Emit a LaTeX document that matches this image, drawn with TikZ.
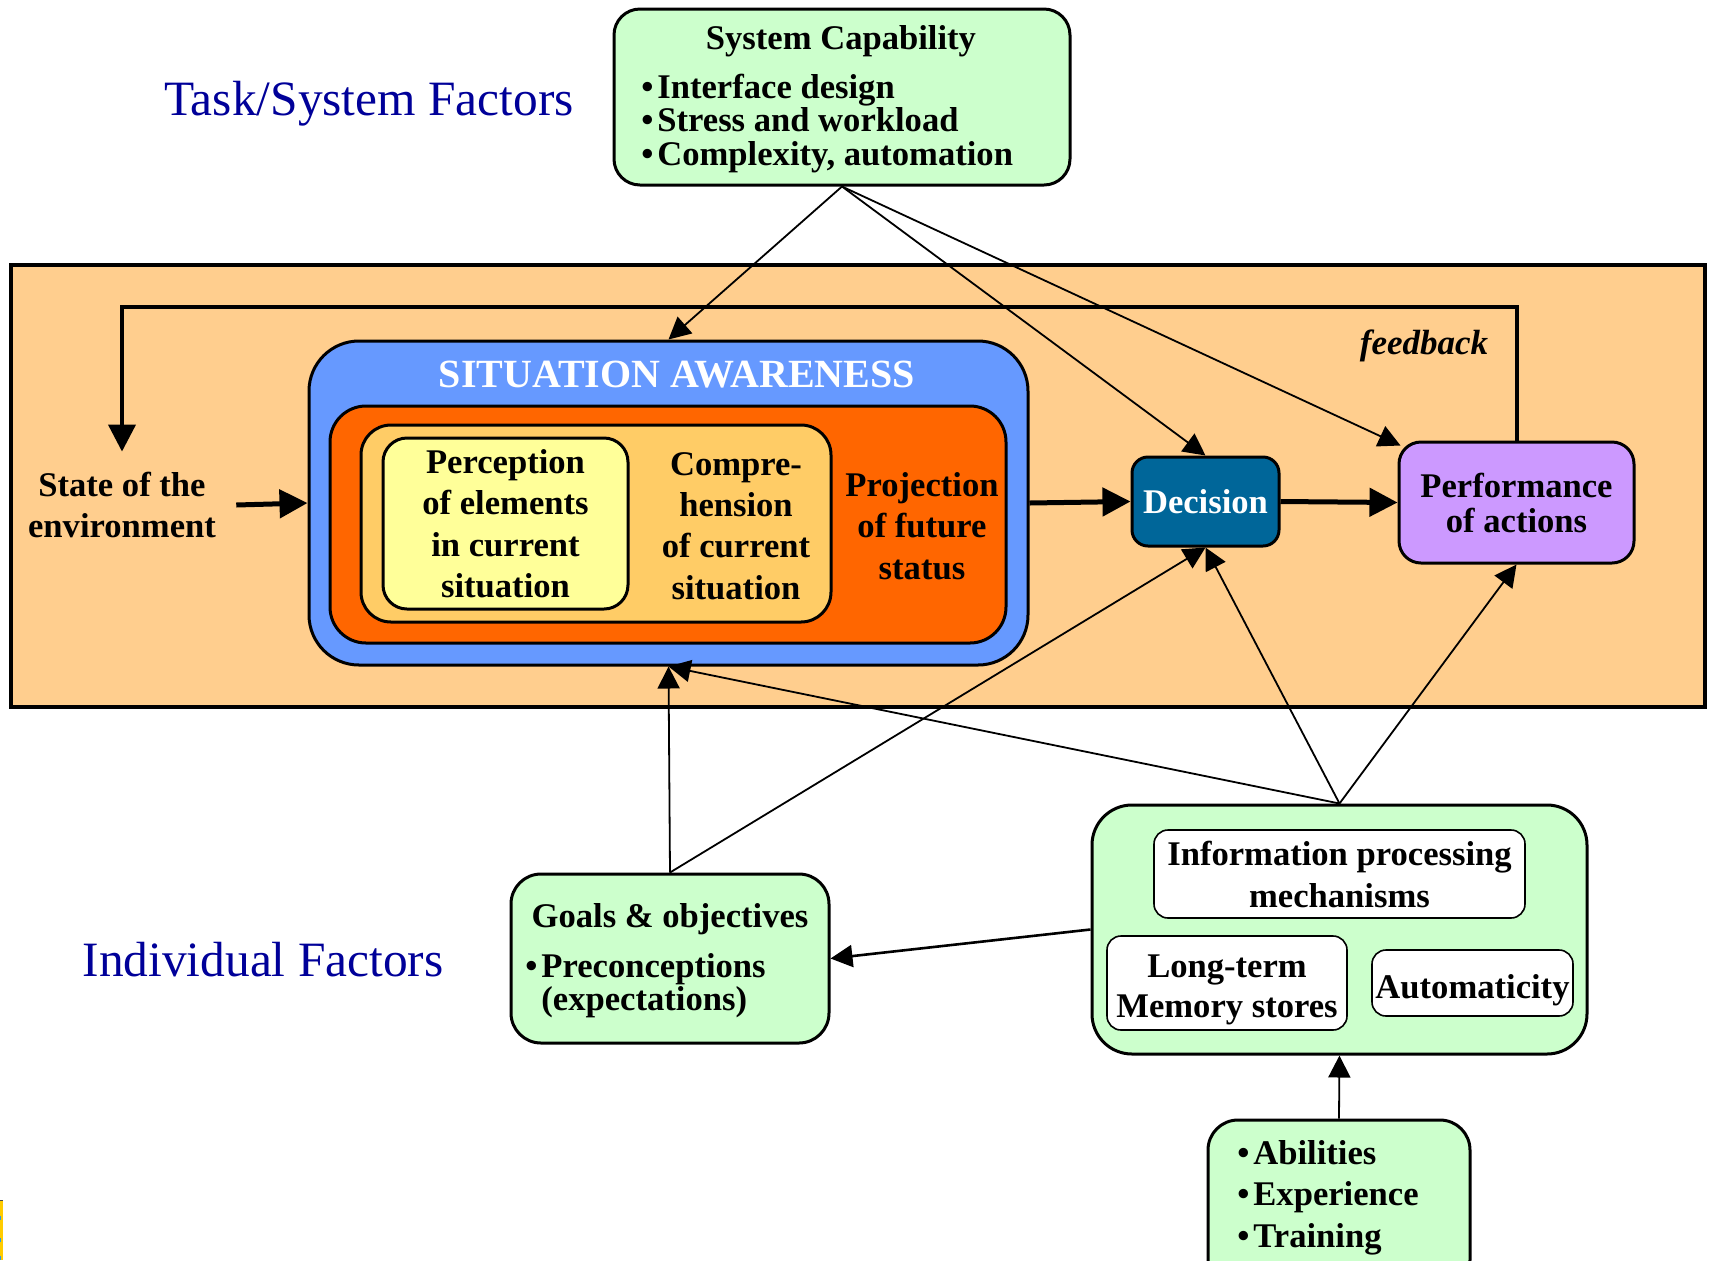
\documentclass[tikz,border=0pt]{standalone}
\usepackage{fontspec}
\setmainfont{Liberation Serif}
\usetikzlibrary{arrows.meta,calc}

\definecolor{navy}{HTML}{000099}
\definecolor{framefill}{HTML}{FFCE8E}
\definecolor{sablue}{HTML}{6699FF}
\definecolor{projorange}{HTML}{FF6600}
\definecolor{compfill}{HTML}{FFCC66}
\definecolor{percfill}{HTML}{FFFF99}
\definecolor{decfill}{HTML}{006699}
\definecolor{perffill}{HTML}{CC99FF}
\definecolor{factgreen}{HTML}{CCFFCC}
\definecolor{stripyellow}{HTML}{FFCC00}
\definecolor{stripblue}{HTML}{3399DD}

\newcommand{\bul}{\makebox[8pt][l]{•}}

\begin{document}
\begin{tikzpicture}[x=0.5pt,y=-0.5pt,
  box/.style 2 args={draw, line width=1.5pt, inner sep=0pt,
    minimum width=#1*0.5pt, minimum height=#2*0.5pt},
  subbox/.style 2 args={box={#1}{#2}, line width=0.8pt, fill=white, rounded corners=7pt},
  lbl/.style={font=\fontsize{17.3}{20.7}\selectfont\bfseries, align=center, inner sep=0pt},
  listtxt/.style={font=\fontsize{17.3}{#1}\selectfont\bfseries, align=left, inner sep=0pt, anchor=west},
  factor/.style={font=\fontsize{24.7}{29}\selectfont, text=navy, inner sep=0pt},
  link/.style={line width=0.9pt, -{Triangle[length=11pt,width=11pt]}},
  flow/.style={line width=2.5pt, -{Triangle[length=14pt,width=14pt]}},
  fback/.style={line width=2pt, -{Triangle[length=13.5pt,width=13.5pt]}}
]
% page
\useasboundingbox (0,0) rectangle (1710,1260);
\fill[white] (0,0) rectangle (1710,1260);

% side titles
\node[factor] (tsf) at (369,104) {Task/System Factors};
\node[factor] (indf) at (263,960) {Individual Factors};

% system capability
\node[box={456}{176}, fill=factgreen, rounded corners=13pt] (sys) at (842,97) {};
\node[lbl] (systitle) at (841,41) {System Capability};
\node[listtxt=16.9] (syslist) at (641,123.5)
  {\bul Interface design\\\bul Stress and workload\\\bul Complexity, automation};

% operating environment frame
\node[box={1694}{442}, line width=2.3pt, fill=framefill] (frame) at (858,486) {};

% situation awareness nest
\node[box={719}{324}, fill=sablue, rounded corners=25pt] (sa) at (668.5,503) {};
\node[box={676}{237}, fill=projorange, rounded corners=18pt] (proj) at (668,524.5) {};
\node[box={470}{197}, fill=compfill, rounded corners=15pt] (comp) at (596,523.5) {};
\node[box={245}{171}, fill=percfill, rounded corners=12pt, lbl] (perc) at (505.5,523.5)
  {Perception\\of elements\\in current\\situation};
\node[font=\fontsize{20}{24}\selectfont\bfseries, text=white, inner sep=0pt] (satitle) at (677,375)
  {SITUATION AWARENESS};
\node[lbl] (comptxt) at (736,526) {Compre-\\hension\\of current\\situation};
\node[lbl] (projtxt) at (922,526) {Projection\\of future\\status};

% environment, decision, action
\node[lbl, inner sep=10pt] (env) at (122,505) {State of the\\environment};
\node[box={147}{89}, fill=decfill, rounded corners=8pt, lbl, text=white] (dec) at (1205.5,501.5) {Decision};
\node[box={235}{121}, fill=perffill, rounded corners=11pt, lbl,
  font=\fontsize{17.3}{17.5}\selectfont\bfseries] (perf) at (1516.5,502.5) {Performance\\of actions};
\node[font=\fontsize{17.5}{21}\selectfont\bfseries\itshape, inner sep=0pt] (fbtxt) at (1424,346) {feedback};

% individual factors
\node[box={495}{249}, fill=factgreen, rounded corners=20pt] (indiv) at (1339.5,929.5) {};
\node[subbox={371}{88}, lbl, font=\fontsize{17.3}{21}\selectfont\bfseries] (info) at (1339.5,874)
  {Information processing\\mechanisms};
\node[subbox={240}{94}] (ltm) at (1227,983) {};
\node[lbl, font=\fontsize{17.3}{20}\selectfont\bfseries] (ltmtxt) at (1227,990)
  {Long-term\\Memory stores};
\node[subbox={201}{66}] (auto) at (1472.5,983) {};
\node[lbl] (autotxt) at (1472.5,990) {Automaticity};

\node[box={318}{169}, fill=factgreen, rounded corners=15pt] (goals) at (670,958.5) {};
\node[lbl] (goalstitle) at (670,919) {Goals \& objectives};
\node[listtxt=16.5] (goalslist) at (525,986)
  {\bul Preconceptions\\\hspace*{8pt}(expectations)};

\node[box={262}{170}, fill=factgreen, rounded corners=15pt] (abil) at (1339,1205) {};
\node[listtxt=20.7] (abillist) at (1237,1197.5)
  {\bul Abilities\\\bul Experience\\\bul Training};

% main flow
\draw[flow] (env.east) -- (sa.west);
\draw[flow] (sa.east) -- (dec.west);
\draw[flow] (dec.east) -- (perf.west);
\coordinate (fbtop) at (0,307);
\draw[fback] (perf.north) -- (perf.north |- fbtop) -| (env.north);

% influences
\draw[link] (sys.south) -- (sa.north);
\draw[link] (sys.south) -- (dec.north);
\draw[link] (sys.south) -- ($(perf.north west)+(3,5)$);
\draw[link] (goals.north) -- (sa.south);
\draw[link] (goals.north) -- (dec.south);
\draw[link] (indiv.north) -- (sa.south);
\draw[link] (indiv.north) -- (dec.south);
\draw[link] (indiv.north) -- (perf.south);
\draw[link, line width=1.3pt] (indiv.west) -- (goals.east);
\draw[link] (abil.north) -- (indiv.south);

% edge strip
\fill[stripyellow] (0,1200) rectangle (3,1260);
\draw[line width=0.5pt, black!70] (0,1200) -- (3,1200);
\foreach \yy in {1216,1238,1256} \fill[stripblue] (0,\yy) rectangle (1.2,\yy+4);
\end{tikzpicture}
\end{document}
